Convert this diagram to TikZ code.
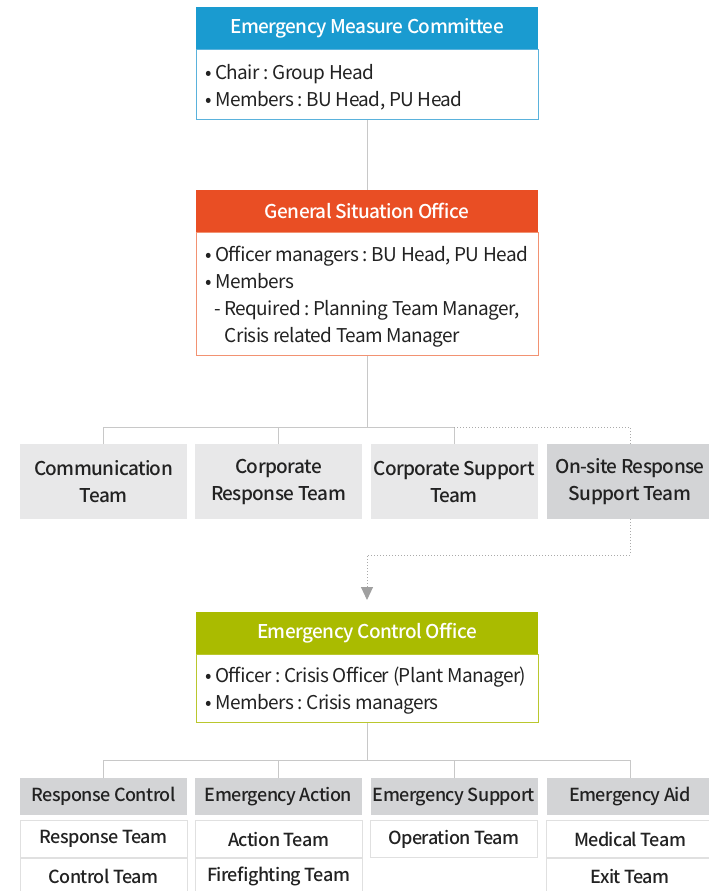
\documentclass[tikz,border=0pt]{standalone}
\usepackage{fontspec}
\setmainfont{Noto Sans CJK KR}[BoldFont={Noto Sans CJK KR Medium},LetterSpace=-3]
\usepackage{tikz}
\usetikzlibrary{arrows.meta,positioning}
\definecolor{emcblue}{HTML}{1A9BD0}
\definecolor{emcline}{HTML}{5AB2DC}
\definecolor{gsored}{HTML}{E94E24}
\definecolor{gsoline}{HTML}{F29272}
\definecolor{ecogreen}{HTML}{AABB00}
\definecolor{ecoline}{HTML}{BAC72E}
\definecolor{teamgray}{HTML}{E8E8E9}
\definecolor{sitegray}{HTML}{D3D4D6}
\definecolor{wiregray}{HTML}{C8C8C8}
\definecolor{cellline}{HTML}{E0E0E0}
\definecolor{ink}{HTML}{222222}
\frenchspacing
\tikzset{
  head/.style={fill=#1,text=white,anchor=north,inner sep=0pt,
               minimum width=342pt,minimum height=42pt,
               font=\fontsize{19}{22}\selectfont\bfseries},
  frame/.style={draw=#1,fill=white,line width=1pt,anchor=north,
               minimum width=342pt,inner sep=0pt},
  bodytext/.style={anchor=west,align=left,inner sep=0pt,text=ink,yshift=-2pt,
               font=\fontsize{19}{27}\selectfont},
  team/.style={fill=teamgray,minimum width=167pt,minimum height=75pt,
               inner sep=0pt,align=center,text=ink,anchor=north,
               font=\fontsize{19}{27}\selectfont\bfseries},
  unit/.style={fill=sitegray,minimum width=167pt,minimum height=37pt,
               inner sep=0pt,text=ink,anchor=north,
               font=\fontsize{18}{22}\selectfont\bfseries},
  cell/.style={draw=cellline,fill=white,minimum width=167pt,minimum height=37pt,
               inner sep=0pt,text=ink,anchor=north,
               font=\fontsize{18}{22}\selectfont\bfseries},
  wire/.style={draw=wiregray,line width=1pt},
  dotwire/.style={draw=wiregray!85!black,line width=1pt,dash pattern=on 1pt off 2pt}
}

\begin{document}
\begin{tikzpicture}[x=1pt,y=-1pt]
  \useasboundingbox (0,0) rectangle (709,891);

  % Emergency Measure Committee
  \node[head=emcblue] (emcH) at (367,7) {Emergency Measure Committee};
  \node[frame=emcline,minimum height=70pt,below=0pt of emcH] (emcB) {};
  \node[bodytext,right=10pt of emcB.west] (emcT)
    {•\,Chair : Group Head\\•\,Members : BU Head, PU Head};

  % General Situation Office
  \node[head=gsored] (gsoH) at (367,190) {General Situation Office};
  \node[frame=gsoline,minimum height=123pt,below=0pt of gsoH] (gsoB) {};
  \node[bodytext,right=10pt of gsoB.west] (gsoT)
    {•\,Officer managers : BU Head, PU Head\\
     •\,Members\\
     \hspace*{9pt}-\,Required : Planning Team Manager,\\
     \hspace*{19pt}Crisis related Team Manager};
  \draw[wire] (emcB) -- (gsoH);

  % teams under the office
  \node[team] (comm) at (103.5,444) {Communication\\Team};
  \node[team] (corpResp) at (278.5,444) {Corporate\\Response Team};
  \node[team] (corpSupp) at (454,444) {Corporate Support\\Team};
  \node[team,fill=sitegray] (onsite) at (630,444) {On-site Response\\Support Team};
  \coordinate (teamBus) at (367,427);
  \draw[wire] (gsoB) -- (teamBus);
  \draw[wire] (comm.north) |- (corpSupp.north |- teamBus) -- (corpSupp.north);
  \draw[wire] (corpResp.north) -- (corpResp.north |- teamBus);
  \draw[dotwire] (corpSupp.north |- teamBus) -| (onsite.north);

  % Emergency Control Office
  \node[head=ecogreen] (ecoH) at (367,612) {Emergency Control Office};
  \node[frame=ecoline,minimum height=68pt,below=0pt of ecoH] (ecoB) {};
  \node[bodytext,right=10pt of ecoB.west] (ecoT)
    {•\,Officer : Crisis Officer (Plant Manager)\\•\,Members : Crisis managers};
  \coordinate (siteBend) at (367,555);
  \draw[dotwire,shorten >=12pt,-{Triangle[length=13pt,width=12pt,color=wiregray!80!black]}]
    (onsite.south) |- (siteBend) -- (ecoH.north);

  % field units
  \node[unit] (rc) at (103.5,778) {Response Control};
  \node[unit] (ea) at (278.5,778) {Emergency Action};
  \node[unit] (es) at (454,778) {Emergency Support};
  \node[unit] (eaid) at (630,778) {Emergency Aid};
  \node[cell,below=5pt of rc] (rcA) {Response Team};
  \node[cell,below=0pt of rcA] (rcB) {Control Team};
  \node[cell,below=5pt of ea] (eaA) {Action Team};
  \node[cell,below=0pt of eaA] (eaB) {Firefighting Team};
  \node[cell,below=5pt of es] (esA) {Operation Team};
  \node[cell,below=5pt of eaid] (eaidA) {Medical Team};
  \node[cell,below=0pt of eaidA] (eaidB) {Exit Team};
  \coordinate (unitBus) at (367,760);
  \draw[wire] (ecoB) -- (unitBus);
  \draw[wire] (rc.north) |- (eaid.north |- unitBus) -- (eaid.north);
  \draw[wire] (ea.north) -- (ea.north |- unitBus);
  \draw[wire] (es.north) -- (es.north |- unitBus);
\end{tikzpicture}
\end{document}
